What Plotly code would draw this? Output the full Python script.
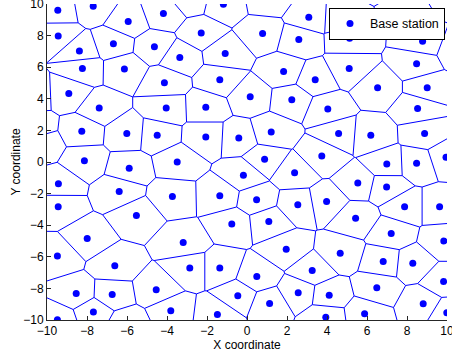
import numpy as np
import plotly.graph_objects as go

# Base station coordinates (visible dots)
xs = [-9.46, -7.69, -5.94, -9.44, -6.68, -8.38, -8.23, -6.13, -8.91, -7.39,
      -4.18, -1.18, -2.29, -4.63, -3.36, -1.09, -4.13, -1.36, -4.04, -2.06,
      3.09, 0.78, 2.59, 1.83, 3.41, 0.16, 2.24, 4.04,
      5.13, 8.78, 5.11, 8.48, 6.53, 9.01, 8.53,
      -8.26, -6.01, -8.13, -5.89, -9.43, -6.39, -9.44, -5.53,
      -4.49, -2.06, -0.41, -3.49, -0.18, -3.73, -1.36,
      1.21, 4.58, 3.74, 0.88, 2.38, 0.48, 2.54, 3.98,
      6.19, 8.88, 6.99, 8.48, 9.95, 5.54, 6.98, 7.88, 9.63, 5.43,
      -7.99, -9.48, -6.61, -8.54, -6.74, -7.68, -9.48,
      -0.76, -3.19, -2.86, -1.36, -4.54, -0.46, -3.81, -1.48,
      1.09, 1.96, 4.66, 0.49, 3.26, 2.56, 4.11, 1.13, 3.94,
      7.21, 9.84, 6.81, 8.29, 9.83, 6.49, 8.81, 5.88, 9.99]
ys = [9.61, 9.86, 8.89, 7.98, 7.49, 7.03, 5.92, 5.89, 4.34, 3.41,
      9.40, 9.99, 8.17, 7.30, 6.62, 6.86, 5.02, 5.21, 3.41, 3.47,
      9.16, 8.13, 7.75, 5.73, 5.21, 4.13, 3.94, 3.35,
      7.83, 7.64, 5.92, 6.22, 4.70, 4.70, 3.38,
      1.95, 1.80, 0.08, -0.40, -1.38, -1.86, -2.84, -3.38,
      1.70, 1.59, 1.52, 0.00, -0.84, -2.18, -2.14,
      1.90, 1.80, 0.38, 0.17, -0.68, -2.39, -2.71, -2.50,
      1.70, 1.80, -0.13, -0.08, 0.30, -1.33, -1.59, -2.84, -2.84, -3.56,
      -4.84, -5.95, -6.56, -8.32, -8.38, -9.50, -9.99,
      -3.92, -5.10, -6.71, -6.71, -8.08, -8.46, -9.42, -9.65,
      -3.77, -5.52, -5.78, -7.24, -6.86, -8.27, -8.43, -8.95, -9.82,
      -4.53, -5.00, -6.29, -6.41, -7.57, -7.96, -8.97, -9.61, -9.54]

# Stations not visible (outside the axes or under the legend), estimated
# from the cell edges they produce in the reference
xs_hidden = [-10.27, -10.65, -10.74, -6.00, -2.83, 1.06, 4.76, 6.46, 8.08, 10.12, 10.57]
ys_hidden = [1.10, 2.17, 4.28, -10.25, 10.31, 10.33, 9.09, 11.60, 9.52, 10.50, 7.11]

x_ticks = [-10, -8, -6, -4, -2, 0, 2, 4, 6, 8, 10]
y_ticks = [-10, -8, -6, -4, -2, 0, 2, 4, 6, 8, 10]

all_x = xs + xs_hidden
all_y = ys + ys_hidden


def voronoi_edges(px, py, box=30.0):
    P = np.column_stack([px, py])
    n = len(P)
    sq = (P ** 2).sum(axis=1)
    ex, ey = [], []
    for i in range(n):
        for j in range(i + 1, n):
            pi, pj = P[i], P[j]
            m = (pi + pj) / 2
            d = np.array([-(pj[1] - pi[1]), pj[0] - pi[0]])
            lo, hi = -1e9, 1e9
            mask = np.ones(n, bool)
            mask[[i, j]] = False
            D = P[mask] - pi
            a = 2 * (D @ d)
            b = sq[mask] - sq[i] - 2 * (D @ m)
            pos = a > 1e-12
            neg = a < -1e-12
            zer = ~(pos | neg)
            if np.any(b[zer] < 0):
                continue
            if pos.any():
                hi = min(hi, (b[pos] / a[pos]).min())
            if neg.any():
                lo = max(lo, (b[neg] / a[neg]).max())
            for k in range(2):
                if abs(d[k]) > 1e-12:
                    t1 = (-box - m[k]) / d[k]
                    t2 = (box - m[k]) / d[k]
                    lo = max(lo, min(t1, t2))
                    hi = min(hi, max(t1, t2))
            if hi - lo > 1e-9:
                a0 = m + lo * d
                a1 = m + hi * d
                ex += [a0[0], a1[0], None]
                ey += [a0[1], a1[1], None]
    return ex, ey


ex, ey = voronoi_edges(all_x, all_y)

fig = go.Figure()
fig.add_trace(go.Scatter(x=ex, y=ey, mode="lines",
                         line=dict(color="#0000ff", width=1),
                         showlegend=False, hoverinfo="skip"))
fig.add_trace(go.Scatter(x=all_x, y=all_y, mode="markers", name="Base station",
                         marker=dict(color="#0000ff", size=7)))

axis_common = dict(showgrid=False, zeroline=False, showline=True,
                   linecolor="#262626", linewidth=1, ticks="inside",
                   ticklen=4, tickcolor="#262626", automargin=False,
                   ticklabeloverflow="allow",
                   tickfont=dict(size=12, color="black"), mirror=False)
fig.update_xaxes(range=[-10, 10], tickvals=x_ticks, **axis_common,
                 title=dict(text="X coordinate", font=dict(size=12, color="black"),
                            standoff=2))
fig.update_yaxes(range=[-10, 10], tickvals=y_ticks, **axis_common,
                 title=dict(text="Y coordinate", font=dict(size=12, color="black"),
                            standoff=0))

fig.update_layout(
    width=452, height=356,
    margin=dict(l=47, r=5, t=4, b=36),
    plot_bgcolor="white", paper_bgcolor="white",
    font=dict(family="Liberation Sans, Arial, sans-serif", size=12, color="black"),
    legend=dict(x=0.995, y=0.988, xanchor="right", yanchor="top",
                bgcolor="white", bordercolor="black", borderwidth=1,
                font=dict(size=12.5), itemwidth=30, tracegroupgap=0),
)

fig.write_html("out.html", config={"displayModeBar": False},
               post_script="document.body.style.margin='0';document.body.style.overflow='hidden';")
